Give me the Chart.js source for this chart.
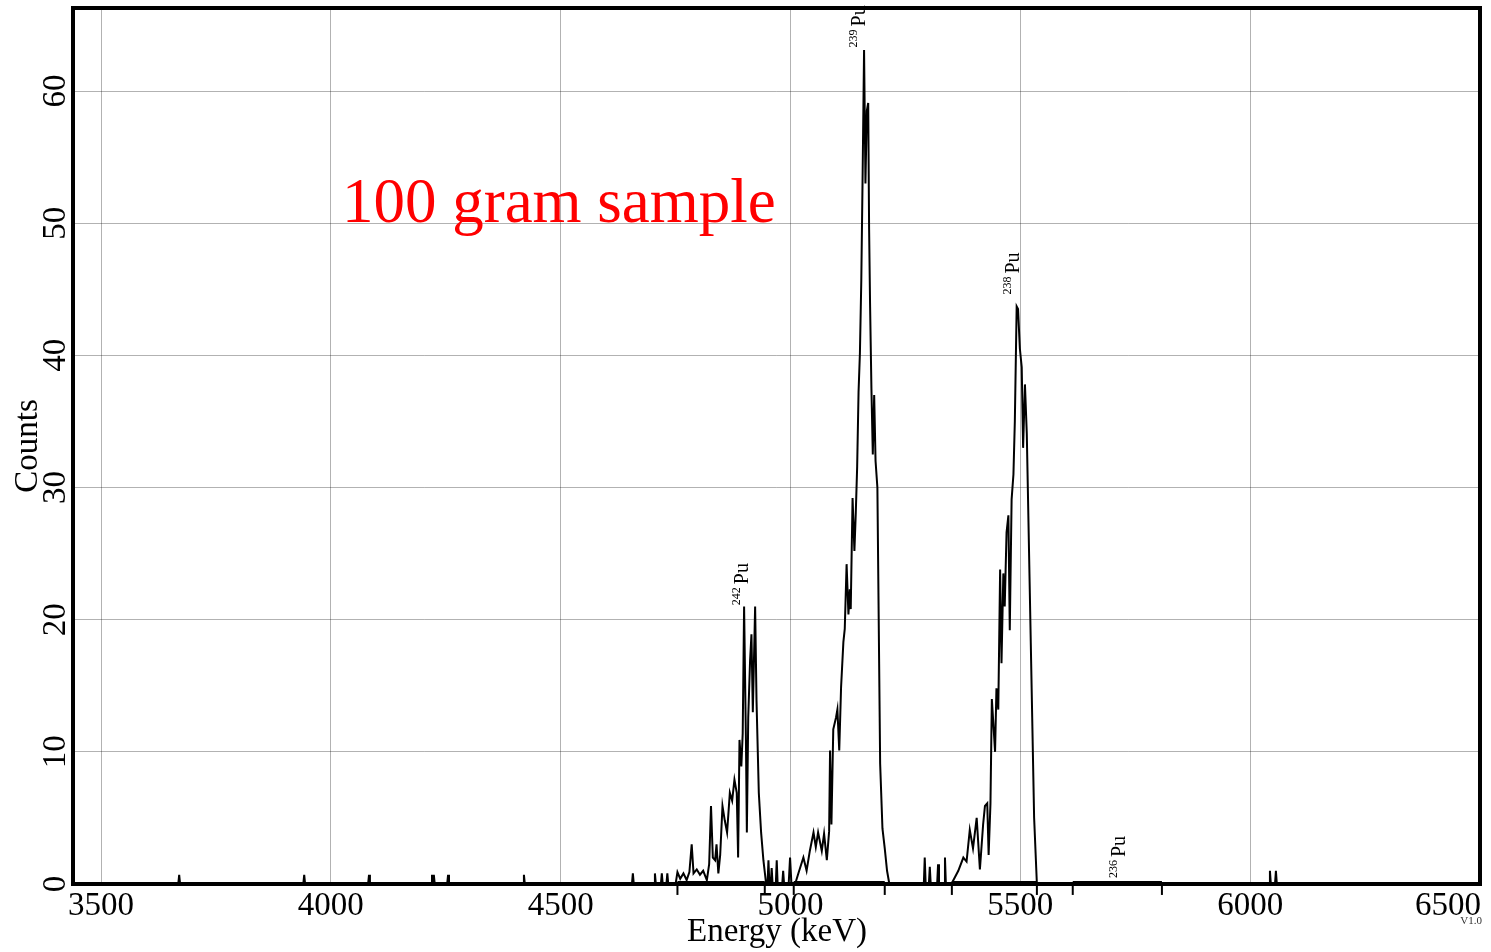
<!DOCTYPE html>
<html><head><meta charset="utf-8">
<script src="https://cdn.jsdelivr.net/npm/chart.js@4.4.1/dist/chart.umd.min.js"></script>
<style>html,body{margin:0;padding:0;background:#fff;}canvas{display:block;}</style>
</head><body>
<canvas id="c" width="1491" height="952"></canvas>
<script>
// ---- data ----
const energy = [
 3439,
 3668,3670,3672, 3940,3942,3944, 4081,4083,4085,
 4218,4220,4222,4224,4226, 4253,4255,4257, 4418,4420,4422,
 4655,4657,4659, 4703,4705,4707, 4718,4720,4722, 4730,4732,4734,
 4750,4754,4760,4767,4774,4780,4785,4789,4796,4803,4810,4818,4823,4827,4831,4836,4839,4843,4847,
 4852,4857,4862,4868,4873,4878,4883,4886,4889,4893,4896,4899,4903,4905,4908,4912,4915,4918,4923,
 4926,4931,4936,4941,4947,
 4950,4952,4954, 4957,4959,4961, 4968,4970,4972, 4982,4984,4986, 4996,4999,5002,
 5010,5017,5028,5035,5042,5050,5055,5060,5068,5073,5079,5084,5086,5089,5093,5099,5102,5106,5110,
 5115,5118,5122,5126,5129,5131,5135,5139,5142,5145,5148,5151,5154,5157,5160,5163,5166,5169,5171,
 5173,5176,5179,5182,5185,5189,5195,5200,5205,5210,5215,
 5290,5292,5294, 5301,5303,5305, 5319,5321,5323, 5334,5336,5338,
 5350,5365,5376,5383,5390,5397,5405,5412,5419,5423,5428,5431,5435,5438,5445,5448,5452,5456,5459,
 5463,5466,5470,5474,5477,5481,5485,5488,5492,5495,5499,5503,5506,5510,5514,5530,5536,
 6041,6043,6045, 6054,6056,6058,
 6500
];
const counts = [
 0,
 0,0.7,0, 0,0.7,0, 0,0.7,0,
 0,0.7,0,0.7,0, 0,0.7,0, 0,0.7,0,
 0,0.8,0, 0,0.8,0, 0,0.8,0, 0,0.8,0,
 0,0.9,0.4,0.8,0.3,0.9,3.0,0.8,1.1,0.7,1.0,0.3,1.5,5.9,2.0,1.8,3.0,0.8,2.2,
 5.9,4.8,3.9,6.9,6.3,7.9,6.9,2.0,10.9,8.9,11.4,21.0,10.9,3.9,12.6,16.9,18.9,13.0,21.0,
 13.9,6.9,3.9,1.8,0,
 0,1.8,0, 0,1.2,0, 0,1.8,0, 0,1.0,0, 0,2.0,0,
 0,0.8,2.0,1.0,2.5,3.9,2.8,3.9,2.5,3.8,1.8,4.0,10.1,4.5,11.7,12.6,13.2,10.1,14.9,
 18.3,19.3,24.2,20.4,22.3,20.8,29.2,25.2,28.1,31.6,37.2,40.2,45.7,54.0,63.1,53.0,58.5,59.1,49.5,
 44.0,37.5,32.5,37.0,32.0,30.0,9.1,4.2,2.7,1.0,0,
 0,2.0,0, 0,1.3,0, 0,1.5,0, 0,2.0,0,
 0,1.0,2.0,1.7,4.1,2.7,5.0,1.1,4.5,5.9,6.1,2.2,6.1,14.0,10.0,14.8,13.2,23.8,16.7,
 23.5,21.0,26.6,27.9,19.2,29.1,31.0,35.0,43.7,43.5,40.5,39.1,33.0,37.8,34.1,5.0,0,
 0,1.0,0, 0,1.0,0,
 0
];
const xTicks = [3500, 4000, 4500, 5000, 5500, 6000, 6500];
const yTicks = [0, 10, 20, 30, 40, 50, 60];
const roiStart = [4754, 5007, 5351, 5614];
const roiEnd   = [4944, 5205, 5536, 5808];
const peakMass   = ['242', '239', '238', '236'];
const peakEnergy = [4907, 5162, 5497, 5728];
const peakCount  = [21.1, 63.3, 44.6, 0.45];
const xTitle = 'Energy (keV)';
const yTitle = 'Counts';
const noteText = '100 gram sample';
const noteEnergy = 4024, noteCount = 50.1;
const versionText = 'V1.0';

// ---- build datasets ----
const spectrum = energy.map((e, i) => ({x: e, y: counts[i]}));
const roiLine = [];
roiStart.forEach((s, i) => { roiLine.push({x: s, y: 0}, {x: roiEnd[i], y: 0}, {x: roiEnd[i], y: null}); });
const roiMarks = [];
roiStart.forEach((s, i) => { roiMarks.push({x: s, y: -0.45}, {x: roiEnd[i], y: -0.45}); });

const SERIF = '"Liberation Serif", "Times New Roman", Times, serif';

const textPlugin = {
  id: 'texts',
  beforeDatasetsDraw(chart) {
    const {ctx, chartArea: a} = chart;
    ctx.save();
    ctx.strokeStyle = '#000';
    ctx.lineWidth = 4;
    ctx.strokeRect(a.left, a.top, a.right - a.left, a.bottom - a.top);
    ctx.restore();
  },
  afterDraw(chart) {
    const {ctx, chartArea: a, scales: {x, y}} = chart;
    ctx.save();
    ctx.fillStyle = '#000';
    // y tick labels (rotated)
    ctx.font = '33px ' + SERIF;
    ctx.textAlign = 'center';
    ctx.textBaseline = 'alphabetic';
    yTicks.forEach(v => {
      const py = y.getPixelForValue(v);
      ctx.save(); ctx.translate(65, py); ctx.rotate(-Math.PI / 2);
      ctx.fillText(String(v), 0, 0); ctx.restore();
    });
    // x tick labels
    xTicks.forEach((v, i) => {
      const px = x.getPixelForValue(v);
      if (i === xTicks.length - 1) { ctx.textAlign = 'right'; ctx.fillText(String(v), a.right + 1, 915); }
      else { ctx.textAlign = 'center'; ctx.fillText(String(v), px, 915); }
    });
    // axis titles
    ctx.textAlign = 'center';
    ctx.fillText(xTitle, 777, 941);
    ctx.save(); ctx.translate(37, 446); ctx.rotate(-Math.PI / 2);
    ctx.fillText(yTitle, 0, 0); ctx.restore();
    // version
    ctx.font = '11px ' + SERIF;
    ctx.fillStyle = '#333';
    ctx.textAlign = 'right';
    ctx.fillText(versionText, 1482, 924);
    // peak labels
    ctx.fillStyle = '#000';
    peakMass.forEach((m, i) => {
      const px = x.getPixelForValue(peakEnergy[i]);
      const py = y.getPixelForValue(peakCount[i]);
      ctx.save(); ctx.translate(px, py); ctx.rotate(-Math.PI / 2);
      ctx.textAlign = 'left';
      ctx.font = '12px ' + SERIF;
      ctx.fillText(m, 0, -8);
      const w = ctx.measureText(m).width;
      ctx.font = '20px ' + SERIF;
      ctx.fillText('Pu', w + 3, 0);
      ctx.restore();
    });
    // red note
    ctx.font = '63px ' + SERIF;
    ctx.fillStyle = '#ff0000';
    ctx.textAlign = 'left';
    ctx.fillText(noteText, x.getPixelForValue(noteEnergy), y.getPixelForValue(noteCount));
    ctx.restore();
  }
};

new Chart(document.getElementById('c'), {
  type: 'line',
  data: {
    datasets: [
      {data: spectrum, borderColor: '#000', borderWidth: 2, pointRadius: 0, tension: 0, fill: false},
      {data: roiLine, borderColor: '#000', borderWidth: 6, pointRadius: 0, spanGaps: false, fill: false},
      {data: roiMarks, showLine: false, borderColor: '#000', pointStyle: 'line', rotation: 90,
       pointRadius: 5, pointBorderWidth: 2, clip: false}
    ]
  },
  options: {
    responsive: false,
    animation: false,
    devicePixelRatio: 1,
    layout: {padding: {top: 8, right: 11, left: 0, bottom: 0}},
    plugins: {legend: {display: false}, tooltip: {enabled: false}},
    scales: {
      x: {
        type: 'linear', min: 3439, max: 6500,
        afterBuildTicks: s => { s.ticks = xTicks.map(v => ({value: v})); },
        afterFit: s => { s.height = 68; },
        ticks: {display: false},
        grid: {color: 'rgba(0,0,0,0.3)', lineWidth: 1, drawTicks: false},
        border: {display: false}
      },
      y: {
        type: 'linear', min: 0, max: 66.28,
        afterBuildTicks: s => { s.ticks = yTicks.map(v => ({value: v})); },
        afterFit: s => { s.width = 73; },
        ticks: {display: false},
        grid: {color: 'rgba(0,0,0,0.3)', lineWidth: 1, drawTicks: false},
        border: {display: false}
      }
    }
  },
  plugins: [textPlugin]
});
</script>
</body></html>
